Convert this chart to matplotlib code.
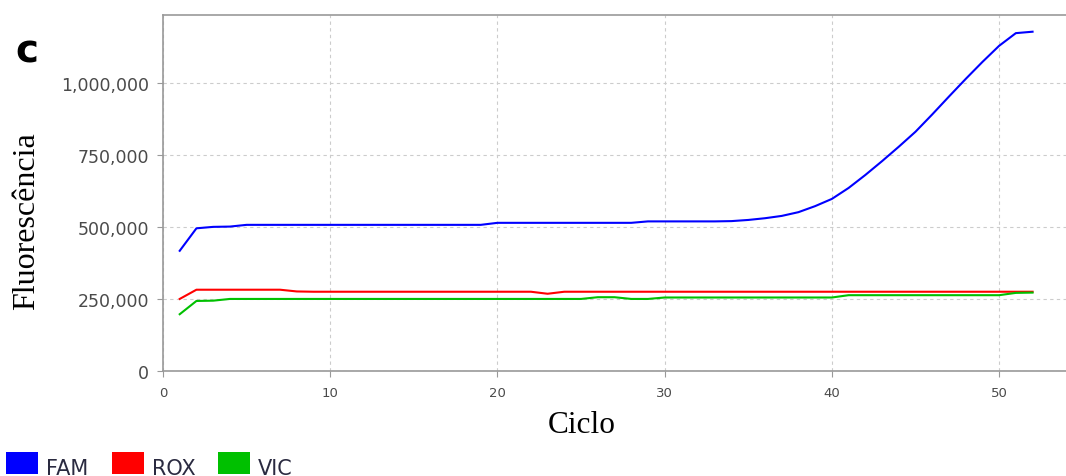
import numpy as np
import matplotlib.pyplot as plt
from matplotlib.patches import Rectangle
from matplotlib.ticker import FuncFormatter

# ciclos de amplificação
ciclos = np.arange(1, 53)

fam = [417000, 495000, 500000, 501000, 507000, 507000, 507000, 507000, 507000, 507000,
       507000, 507000, 507000, 507000, 507000, 507000, 507000, 507000, 507000, 514000,
       514000, 514000, 514000, 514000, 514000, 514000, 514000, 514000, 519000, 519000,
       519000, 519000, 519000, 520000, 524000, 530000, 538000, 551000, 572000, 597000,
       635000, 680000, 728000, 778000, 830000, 890000, 952000, 1013000, 1072000, 1128000,
       1172000, 1177000]

rox = [250000, 282000, 282000, 282000, 282000, 282000, 282000, 276000, 275000, 275000,
       275000, 275000, 275000, 275000, 275000, 275000, 275000, 275000, 275000, 275000,
       275000, 275000, 268000, 275000, 275000, 275000, 275000, 275000, 275000, 275000,
       275000, 275000, 275000, 275000, 275000, 275000, 275000, 275000, 275000, 275000,
       275000, 275000, 275000, 275000, 275000, 275000, 275000, 275000, 275000, 275000,
       275000, 275000]

vic = [197000, 243000, 244000, 250000, 250000, 250000, 250000, 250000, 250000, 250000,
       250000, 250000, 250000, 250000, 250000, 250000, 250000, 250000, 250000, 250000,
       250000, 250000, 250000, 250000, 250000, 256000, 256000, 250000, 250000, 255000,
       255000, 255000, 255000, 255000, 255000, 255000, 255000, 255000, 255000, 255000,
       263000, 263000, 263000, 263000, 263000, 263000, 263000, 263000, 263000, 263000,
       271000, 272000]

series = [("FAM", fam, "#0000ff"), ("ROX", rox, "#ff0000"), ("VIC", vic, "#00c000")]

x_ticks = [0, 10, 20, 30, 40, 50]
y_ticks = [0, 250000, 500000, 750000, 1000000]

fig = plt.figure(figsize=(10.66, 4.77), dpi=100)
ax = fig.add_axes([0.1529, 0.2201, 0.8471, 0.7464])

for nome, vals, cor in series:
    ax.plot(ciclos, vals, color=cor, lw=1.5, solid_joinstyle="round")

ax.set_xlim(0, 54)
ax.set_ylim(0, 1235000)
ax.set_xticks(x_ticks)
ax.set_yticks(y_ticks)
ax.yaxis.set_major_formatter(FuncFormatter(lambda v, p: f"{int(v):,}"))

ax.grid(True, color="#cccccc", ls=(0, (3, 3)), lw=0.8)
ax.set_axisbelow(True)

for s in ["left", "bottom", "top"]:
    ax.spines[s].set_color("#999999")
    ax.spines[s].set_linewidth(1.2)
ax.spines["right"].set_visible(False)

ax.tick_params(axis="y", labelsize=12.5, colors="#999999", labelcolor="#4a4a4a",
               length=4, direction="out", pad=6)
ax.tick_params(axis="x", labelsize=9.5, colors="#999999", labelcolor="#4a4a4a",
               length=4, direction="out", pad=7)

# rótulos dos eixos
fig.text(582 / 1066, 0.107, "Ciclo", family="Liberation Serif", fontsize=22.5,
         ha="center", va="center")
fig.text(0.025, 0.537, "Fluorescência", family="Liberation Serif", fontsize=23,
         rotation=90, ha="center", va="center")

# letra do painel
fig.text(0.014, 0.870, "c", fontsize=28, fontweight="bold", ha="left", va="baseline")

# legenda manual no rodapé
W, H = 1066, 477
leg_x = [6, 112, 218]
for (nome, vals, cor), lx in zip(series, leg_x):
    fig.patches.append(Rectangle((lx / W, (H - 475) / H), 32 / W, 22 / H,
                                 transform=fig.transFigure, facecolor=cor,
                                 edgecolor="none"))
    fig.text((lx + 40) / W, (H - 475) / H, nome, fontsize=15, color="#2a2a40",
             ha="left", va="baseline")

fig.savefig("out.png", dpi=100)
